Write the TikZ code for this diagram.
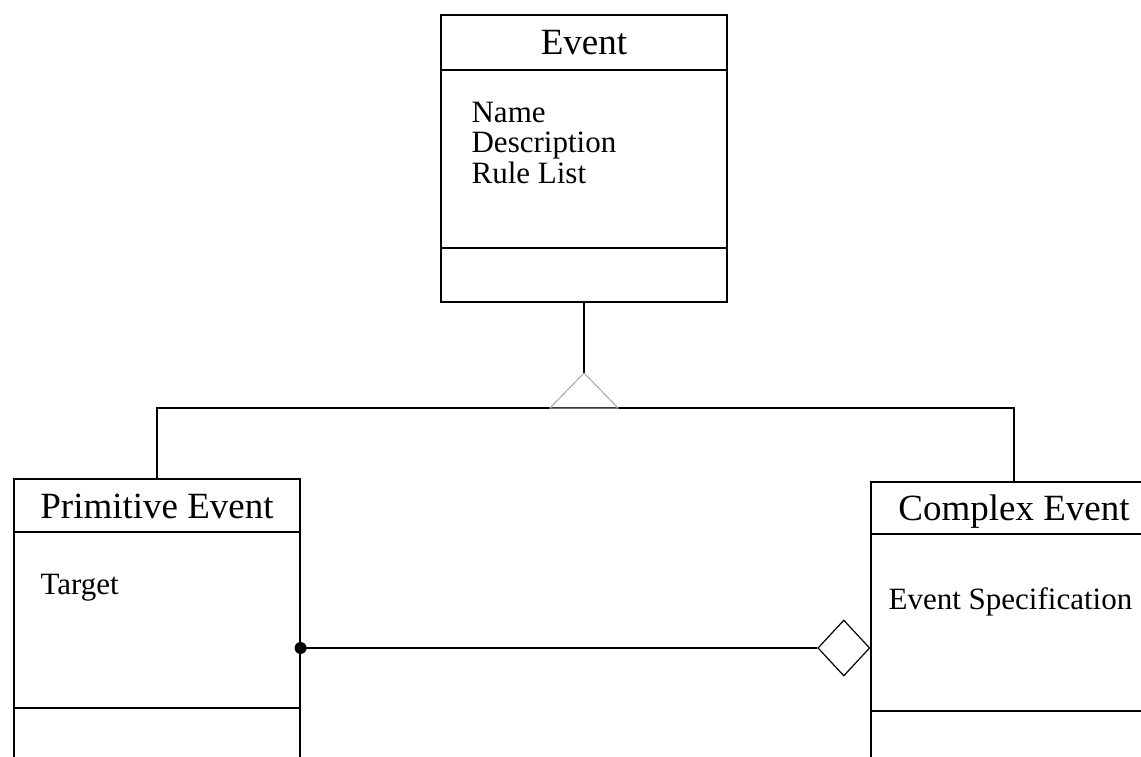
\documentclass[tikz,border=0pt]{standalone}
\usepackage{fontspec}
\setmainfont{Liberation Serif}
\usetikzlibrary{shapes.geometric}
\begin{document}
\begin{tikzpicture}[x=1pt, y=-1pt, line width=1.2pt,
  classtitle/.style={draw, rectangle, minimum width=286pt, inner sep=0pt,
    font=\fontsize{37}{40}\selectfont, text height=25pt, text depth=0pt},
  compartment/.style={draw, rectangle, minimum width=286pt, inner sep=0pt},
  attr/.style={anchor=base west, inner sep=0pt, font=\fontsize{31}{34}\selectfont},
  gentri/.style={draw=gray!70, line width=1pt},
  aggdiamond/.style={diamond, draw, minimum width=52pt, minimum height=56pt,
    inner sep=0pt, anchor=east, fill=white}]
\clip (0,0) rectangle (1141,757);
\fill[white] (0,0) rectangle (1141,757);

% Event class
\node[classtitle, minimum height=55pt] (et) at (584,42.5) {Event};
\node[compartment, minimum height=178pt] (ea) at (584,159) {};
\node[compartment, minimum height=54pt] (eo) at (584,275) {};
\node[attr] (ename) at (471,123) {Name};
\node[attr] (edesc) at (471,153) {Description};
\node[attr] (erule) at (471,183) {Rule List};

% Primitive Event class
\node[classtitle, minimum height=53pt] (pt) at (157,505.5) {Primitive Event};
\node[compartment, minimum height=176pt] (pa) at (157,620) {};
\node[compartment, minimum height=80pt] (po) at (157,748) {};
\node[attr] (ptarget) at (40,594) {Target};

% Complex Event class
\node[classtitle, minimum height=52pt] (ct) at (1014,508) {Complex Event};
\node[compartment, minimum height=177pt] (ca) at (1014,622.5) {};
\node[compartment, minimum height=80pt] (co) at (1014,751) {};
\node[attr] (cspec) at (888,609) {Event Specification};

% Generalization
\coordinate (apex) at (584,373);
\coordinate (bar) at (584,408);
\draw (eo.south) -- (apex);
\draw (pt.north) -- (pt.north |- bar) -- (ct.north |- bar) -- (ct.north);
\draw[gentri] (apex) -- ++(-34,35) -- ++(68,0) -- cycle;

% Aggregation
\coordinate (agg) at (0,648);
\node[aggdiamond] (dia) at (ca.west |- agg) {};
\draw (pa.east |- agg) -- (dia.west);
\fill (pa.east |- agg) circle (6pt);
\end{tikzpicture}
\end{document}
